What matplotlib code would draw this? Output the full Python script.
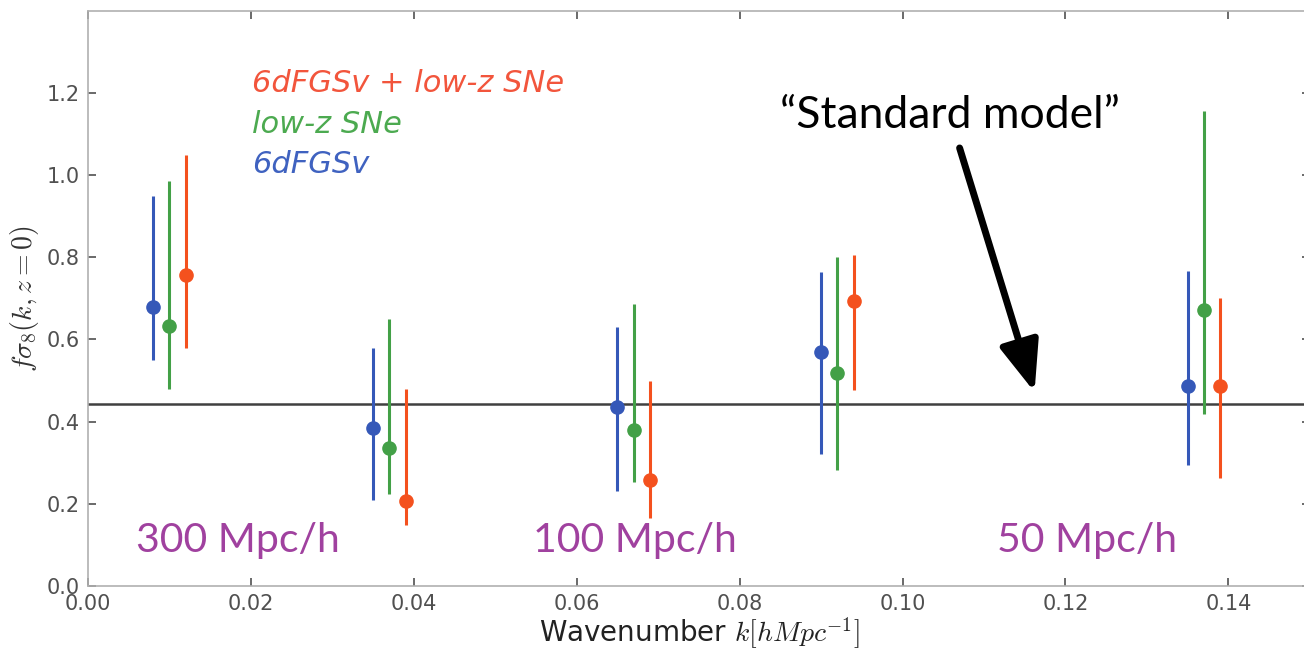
import numpy as np
import matplotlib.pyplot as plt

plt.rcParams['mathtext.fontset'] = 'cm'

# fsigma8 measurements per wavenumber bin
k_blue = [0.008, 0.035, 0.065, 0.090, 0.135]
fs_blue = [0.68, 0.385, 0.435, 0.57, 0.487]
lo_blue = [0.55, 0.21, 0.23, 0.32, 0.294]
hi_blue = [0.95, 0.58, 0.63, 0.765, 0.767]

k_green = [0.010, 0.037, 0.067, 0.092, 0.137]
fs_green = [0.632, 0.337, 0.38, 0.518, 0.672]
lo_green = [0.48, 0.224, 0.252, 0.283, 0.418]
hi_green = [0.985, 0.65, 0.687, 0.80, 1.156]

k_red = [0.012, 0.039, 0.069, 0.094, 0.139]
fs_red = [0.758, 0.207, 0.258, 0.693, 0.487]
lo_red = [0.579, 0.149, 0.165, 0.477, 0.263]
hi_red = [1.049, 0.48, 0.498, 0.805, 0.701]

standard_model = 0.443

c_blue = '#3558b8'
c_green = '#43a047'
c_red = '#f4511e'
c_purple = '#a0419f'

fig = plt.figure(figsize=(13.04, 6.5), dpi=100)
ax = fig.add_axes([0.0675, 0.0985, 0.937, 0.885])

ax.axhline(standard_model, color='#404040', lw=1.8, zorder=1)

series = [(k_blue, fs_blue, lo_blue, hi_blue, c_blue),
          (k_green, fs_green, lo_green, hi_green, c_green),
          (k_red, fs_red, lo_red, hi_red, c_red)]
for k, fs, lo, hi, c in series:
    fs = np.array(fs)
    yerr = [fs - np.array(lo), np.array(hi) - fs]
    ax.errorbar(k, fs, yerr=yerr, fmt='o', color=c, ms=9.5, elinewidth=2.2,
                capsize=0, zorder=3)

ax.set_xlim(0, 0.15)
ax.set_ylim(0, 1.4)
ax.set_xticks(np.arange(0, 0.141, 0.02))
ax.set_yticks(np.arange(0, 1.21, 0.2))
ax.xaxis.set_major_formatter(plt.FormatStrFormatter('%.2f'))
ax.yaxis.set_major_formatter(plt.FormatStrFormatter('%.1f'))
ax.tick_params(direction='in', top=True, right=True, length=6, width=1.2,
               labelsize=15, labelcolor='#505050', color='#505050', pad=6)
for s in ax.spines.values():
    s.set_color('#b0b0b0')
    s.set_linewidth(1.2)

ax.set_xlabel(r'Wavenumber $k[hMpc^{-1}]$', fontsize=20, color='#222222', labelpad=1)
ax.set_ylabel(r'$f\sigma_8(k,z=0)$', fontsize=20, color='#333333', labelpad=4)

# legend as coloured italic text
ax.text(0.0201, 1.202, '6dFGSv + low-z SNe', color='#f2553c', fontsize=22, style='italic')
ax.text(0.0201, 1.102, 'low-z SNe', color='#4caa50', fontsize=22, style='italic')
ax.text(0.0201, 1.005, '6dFGSv', color='#3f62c0', fontsize=22, style='italic')

# scale labels
ax.text(0.0184, 0.083, '300 Mpc/h', color=c_purple, fontsize=29.5, family='Lato', ha='center')
ax.text(0.0671, 0.083, '100 Mpc/h', color=c_purple, fontsize=29.5, family='Lato', ha='center')
ax.text(0.1226, 0.083, '50 Mpc/h', color=c_purple, fontsize=29.5, family='Lato', ha='center')

ax.text(0.1058, 1.114, '\u201cStandard model\u201d', color='black', fontsize=32,
        family='Lato', ha='center')
ax.annotate('', xy=(0.1162, 0.472), xytext=(0.107, 1.066),
            arrowprops=dict(arrowstyle='-|>,head_length=1.4,head_width=0.55',
                            color='black', lw=5, shrinkA=0, shrinkB=0,
                            mutation_scale=22))

fig.savefig('out.png', dpi=100)
